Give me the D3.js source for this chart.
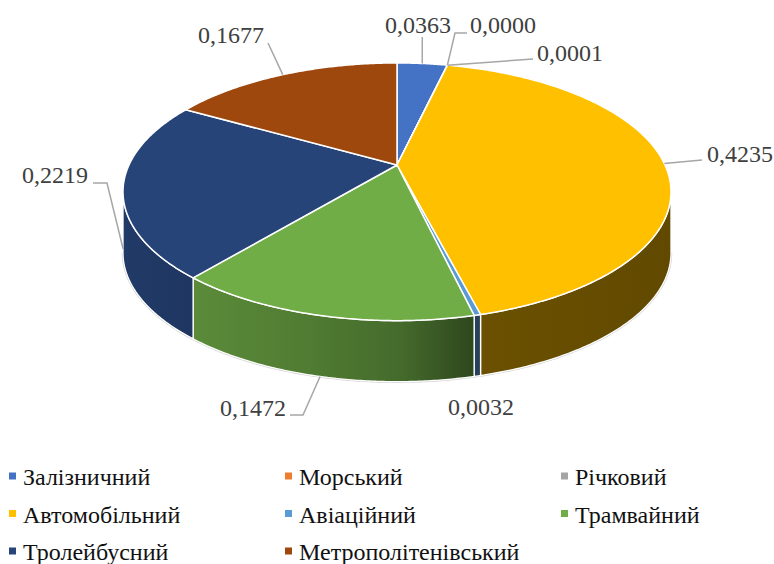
<!DOCTYPE html>
<html>
<head>
<meta charset="utf-8">
<script src="https://cdn.jsdelivr.net/npm/d3@7"></script>
<style>
  body { margin: 0; background: #fff; }
  svg { display: block; }
  text { font-family: "Liberation Serif", "Times New Roman", serif; font-size: 24px; }
</style>
</head>
<body>
<div id="chart"></div>
<script>
// data
const categories = ["Залізничний", "Морський", "Річковий", "Автомобільний",
    "Авіаційний", "Трамвайний", "Тролейбусний", "Метрополітенівський"];
const values = [0.0363, 0.0000, 0.0001, 0.4235, 0.0032, 0.1472, 0.2219, 0.1677];
const colors = ["#4472c4", "#ed7d31", "#a5a5a5", "#ffc000",
    "#5b9bd5", "#70ad47", "#264478", "#9e480e"];

const width = 774, height = 564;
const cx = 397, cy = 165, S = 268, H = 61;   // pie centre, radius, thickness
const tilt = Math.asin(0.46), D = 4.27;      // view angle, camera distance (in radii)

// side shading (brightness by screen x)
const shadeStops = [[123, 0.86], [200, 0.8], [300, 0.72], [400, 0.62], [470, 0.42], [670, 0.38]];

// where the value labels sit and how the leader lines bend
const labelLayout = [
    { x: 385, y: 33, anchor: "top", to: [[null, 37]] },
    { x: 470, y: 33, anchor: "top", to: [[455, 33], [467, 33]] },
    { x: 537, y: 61, anchor: "top", to: [[533, 59]] },
    { x: 707, y: 162, anchor: "top", to: [[702, 160]] },
    { x: 448, y: 415, anchor: null, to: [] },
    { x: 220, y: 416, anchor: "bottom", to: [[303, 415], [290, 415]] },
    { x: 22, y: 183, anchor: "bottom", to: [[107, 183], [93, 183]] },
    { x: 198, y: 43, anchor: "top", to: [[268, 43]] }
];

const svg = d3.select("#chart").append("svg")
    .attr("width", width)
    .attr("height", height);

function proj(t, down) {
    const x = Math.sin(t), z = -Math.cos(t);
    const k = D / (D - z * Math.cos(tilt));
    return [cx + x * k * S, cy + z * Math.sin(tilt) * k * S + (down ? H : 0)];
}

function arcPts(a0, a1, down) {
    const n = Math.max(2, Math.ceil(Math.abs(a1 - a0) / (Math.PI / 360)));
    return d3.range(n + 1).map(i => proj(a0 + (a1 - a0) * i / n, down));
}

// angles where the rim turns away (left/right silhouette)
let tR = Math.PI / 2, tL = 3 * Math.PI / 2;
d3.range(0, Math.PI, 0.001).forEach(t => { if (proj(t)[0] > proj(tR)[0]) tR = t; });
d3.range(Math.PI, 2 * Math.PI, 0.001).forEach(t => { if (proj(t)[0] < proj(tL)[0]) tL = t; });

const arcs = d3.pie().sort(null).value(d => d)(values);
const line = d3.line();

// gradients for the sides
const defs = svg.append("defs");
const gx1 = cx - S * 1.05, gx2 = cx + S * 1.05;
arcs.forEach((a, i) => {
    const g = defs.append("linearGradient")
        .attr("id", "side" + i)
        .attr("gradientUnits", "userSpaceOnUse")
        .attr("x1", gx1).attr("x2", gx2).attr("y1", 0).attr("y2", 0);
    const base = d3.rgb(colors[i]);
    shadeStops.forEach(([x, f]) => {
        g.append("stop")
            .attr("offset", (x - gx1) / (gx2 - gx1))
            .attr("stop-color", d3.rgb(base.r * f, base.g * f, base.b * f));
    });
});

// faint outline under the rim
svg.append("path")
    .attr("d", line(arcPts(tR, tL, true)))
    .attr("fill", "none")
    .attr("stroke", "#d0d0d0")
    .attr("stroke-width", 2.5);

// sides
const sides = svg.append("g");
arcs.forEach((a, i) => {
    const b0 = Math.max(a.startAngle, tR), b1 = Math.min(a.endAngle, tL);
    if (b1 <= b0) return;
    const pts = arcPts(b0, b1, false).concat(arcPts(b1, b0, true));
    sides.append("path")
        .attr("d", line(pts) + "Z")
        .attr("fill", "url(#side" + i + ")")
        .attr("stroke", "#fff")
        .attr("stroke-width", 1.3)
        .attr("stroke-linejoin", "round");
});

// top faces
const tops = svg.append("g");
arcs.forEach((a, i) => {
    const pts = [[cx, cy]].concat(arcPts(a.startAngle, a.endAngle, false));
    tops.append("path")
        .attr("d", line(pts) + "Z")
        .attr("fill", colors[i])
        .attr("stroke", "#fff")
        .attr("stroke-width", 1.5)
        .attr("stroke-linejoin", "round");
});

// value labels with leader lines
const fmt = v => d3.format(".4f")(v).replace(".", ",");
const lbl = svg.append("g");
arcs.forEach((a, i) => {
    const L = labelLayout[i];
    if (L.anchor) {
        const mid = (a.startAngle + a.endAngle) / 2;
        const p = proj(mid, L.anchor === "bottom");
        const pts = [p].concat(L.to.map(q => [q[0] === null ? p[0] : q[0], q[1]]));
        lbl.append("path")
            .attr("d", line(pts))
            .attr("fill", "none")
            .attr("stroke", "#a6a6a6")
            .attr("stroke-width", 1.5);
    }
    lbl.append("text")
        .attr("x", L.x)
        .attr("y", L.y)
        .attr("fill", "#404040")
        .text(fmt(values[i]));
});

// legend
const legend = svg.append("g");
categories.forEach((c, i) => {
    const col = i % 3, row = Math.floor(i / 3);
    const x = 23 + col * 276, y = 485 + row * 37.5;
    legend.append("rect")
        .attr("x", x - 14).attr("y", y - 12.5)
        .attr("width", 7).attr("height", 7)
        .attr("fill", colors[i]);
    legend.append("text")
        .attr("x", x).attr("y", y)
        .attr("fill", "#111")
        .text(c);
});
</script>
</body>
</html>
